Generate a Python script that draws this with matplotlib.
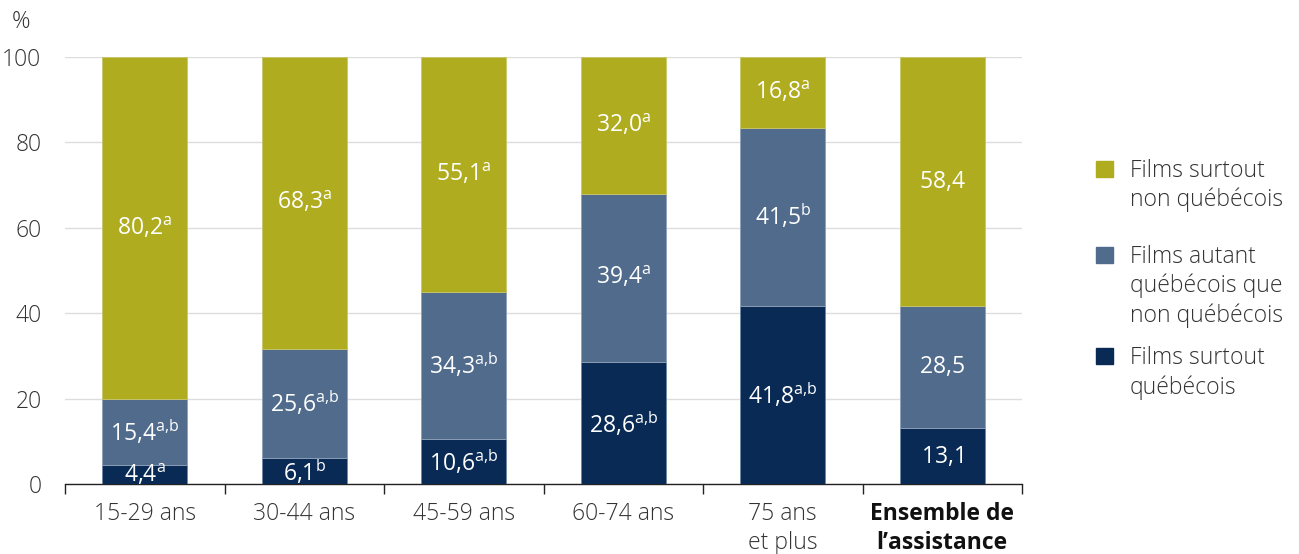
import numpy as np
import matplotlib
matplotlib.use("Agg")
from matplotlib import pyplot as plt
from matplotlib.patches import Rectangle

plt.rcParams['font.family'] = ['Open Sans', 'DejaVu Sans']
plt.rcParams['font.weight'] = 'light'
plt.rcParams['mathtext.fontset'] = 'custom'
plt.rcParams['mathtext.rm'] = 'Open Sans:weight=normal'
plt.rcParams['mathtext.it'] = 'Open Sans:weight=normal'

# data
categories = ['15-29 ans', '30-44 ans', '45-59 ans', '60-74 ans', '75 ans\net plus', 'Ensemble de\nl\u2019assistance']
surtout_qc = [4.4, 6.1, 10.6, 28.6, 41.8, 13.1]
autant = [15.4, 25.6, 34.3, 39.4, 41.5, 28.5]
non_qc = [80.2, 68.3, 55.1, 32.0, 16.8, 58.4]
sup_qc = ['a', 'b', 'a,b', 'a,b', 'a,b', '']
sup_autant = ['a,b', 'a,b', 'a,b', 'a', 'b', '']
sup_non = ['a', 'a', 'a', 'a', 'a', '']
series_names = ['Films surtout\nnon québécois', 'Films autant\nquébécois que\nnon québécois', 'Films surtout\nquébécois']

c_non = '#B0AC1F'
c_aut = '#506B8B'
c_qc = '#082A54'
txt = '#333333'
fs = 16.5

W, H = 1299, 554
fig = plt.figure(figsize=(W / 100, H / 100), dpi=100)
ax = fig.add_axes([65 / W, 1 - 484 / H, (1022 - 65) / W, (484 - 57) / H])

x = np.arange(len(categories))
w = 0.535
b1 = np.array(surtout_qc)
b2 = b1 + np.array(autant)
ax.bar(x, surtout_qc, w, color=c_qc, edgecolor='#6f86a3', linewidth=0.6, zorder=3)
ax.bar(x, autant, w, bottom=b1, color=c_aut, edgecolor='#8fa2b8', linewidth=0.6, zorder=3)
ax.bar(x, non_qc, w, bottom=b2, color=c_non, edgecolor='#c9c66a', linewidth=0.6, zorder=3)

def lab(v, s):
    t = f'{v:.1f}'.replace('.', '{,}')
    if s:
        return r'$\mathrm{' + t + r'}^{\mathrm{' + s.replace(',', '{,}') + '}}$'
    return r'$\mathrm{' + t + '}$'

for i in range(len(categories)):
    ax.text(x[i], surtout_qc[i] / 2 - 0.3, lab(surtout_qc[i], sup_qc[i]), ha='center', va='center',
            color='white', fontsize=fs, zorder=4)
    ax.text(x[i], b1[i] + autant[i] / 2, lab(autant[i], sup_autant[i]), ha='center', va='center',
            color='white', fontsize=fs, zorder=4)
    ax.text(x[i], b2[i] + non_qc[i] / 2, lab(non_qc[i], sup_non[i]), ha='center', va='center',
            color='white', fontsize=fs, zorder=4)

ax.set_xlim(-0.5, 5.5)
ax.set_ylim(0, 100)
ax.set_yticks([0, 20, 40, 60, 80, 100])
ax.yaxis.grid(True, color='#dddddd', linewidth=1, zorder=0)
ax.tick_params(axis='y', length=0, pad=17, labelsize=fs, labelcolor=txt)
ax.set_xticks(x)
ax.set_xticklabels(categories, fontsize=fs, color=txt, linespacing=1.3)
ax.get_xticklabels()[-1].set_fontweight('bold')
ax.get_xticklabels()[-1].set_color('#111111')
ax.tick_params(axis='x', length=0, pad=13)
ax.set_xticks(np.arange(-0.5, 6.0, 1.0), minor=True)
ax.tick_params(axis='x', which='minor', length=7, width=1, color='#222222')
for s in ['top', 'right', 'left']:
    ax.spines[s].set_visible(False)
ax.spines['bottom'].set_color('#222222')
ax.spines['bottom'].set_linewidth(1)
ax.set_axisbelow(True)

fig.text(12 / W, 1 - 22 / H, '%', fontsize=fs, color=txt, ha='left', va='center')

# legend drawn by hand: square aligned with first line of each label
colors = [c_non, c_aut, c_qc]
first_base = [177, 263, 364]
step = 29.5
for name, col, yb in zip(series_names, colors, first_base):
    fig.add_artist(Rectangle((1096 / W, 1 - yb / H), 17 / W, 16 / H, transform=fig.transFigure,
                             color=col))
    for k, line in enumerate(name.split('\n')):
        fig.text(1130 / W, 1 - (yb + k * step) / H, line, fontsize=fs, color=txt,
                 ha='left', va='baseline')

fig.savefig('out.png', dpi=100)
